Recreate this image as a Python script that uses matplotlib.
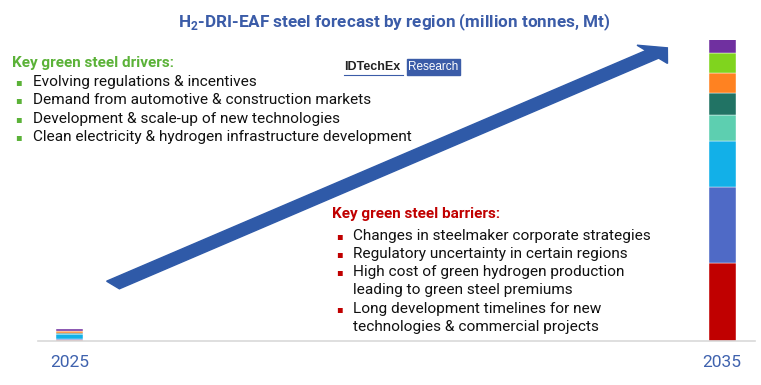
import matplotlib.pyplot as plt
from matplotlib.patches import Rectangle, FancyArrow

plt.rcParams['font.family'] = ['Roboto', 'DejaVu Sans']

# data (million tonnes)
years = ['2025', '2035']
regions = ['R1', 'R2', 'R3', 'R4', 'R5', 'R6', 'R7', 'R8']
colors = ['#C00000', '#4F6AC6', '#12B0E8', '#5DCFB0', '#217364', '#FF8221', '#80D41E', '#7030A0']
v2025 = [0.4, 0.3, 1.5, 0.2, 0.2, 0.6, 0.25, 0.4]
v2035 = [26.0, 25.0, 15.3, 8.7, 7.3, 6.7, 6.7, 4.7]

drivers = ['Evolving regulations & incentives',
           'Demand from automotive & construction markets',
           'Development & scale-up of new technologies',
           'Clean electricity & hydrogen infrastructure development']
barriers = ['Changes in steelmaker corporate strategies',
            'Regulatory uncertainty in certain regions',
            'High cost of green hydrogen production\nleading to green steel premiums',
            'Long development timelines for new\ntechnologies & commercial projects']

W, H = 761, 385
fig = plt.figure(figsize=(W / 100, H / 100), dpi=100)


def fx(px):
    return px / W


def fy(py):
    return 1 - py / H


# axes: baseline at y=341px, x from 38 to 755px
ax = fig.add_axes([fx(38), fy(341), fx(755) - fx(38), 301 / H])
ax.set_xlim(-0.049, 1.0506)
ax.set_ylim(0, 100)
bottoms = [0.0, 0.0]
for i, r in enumerate(regions):
    vals = [v2025[i], v2035[i]]
    ax.bar([0, 1], vals, width=0.0414, bottom=bottoms, color=colors[i],
           edgecolor='white', linewidth=0.3, label=r)
    bottoms = [b + v for b, v in zip(bottoms, vals)]
for s in ['top', 'right', 'left']:
    ax.spines[s].set_visible(False)
ax.spines['bottom'].set_color('#D9D9D9')
ax.spines['bottom'].set_linewidth(1.2)
ax.set_yticks([])
ax.set_xticks([0, 1])
ax.set_xticklabels(years, fontsize=12.5, color='#3F62AE')
ax.tick_params(axis='x', length=0, pad=10)
ax.patch.set_alpha(0)

# big arrow
arr = FancyArrow(fx(113), fy(285), fx(669) - fx(113) - 0.022, fy(47) - fy(285) - 0.019,
                 width=0.026, head_width=0.062, head_length=0.026,
                 length_includes_head=False, transform=fig.transFigure,
                 color='#2F5AA8', zorder=1)
fig.patches.append(arr)

# title
fig.text(fx(394), fy(22), r'H$_\mathregular{2}$-DRI-EAF steel forecast by region (million tonnes, Mt)',
         ha='center', va='center', fontsize=12.3, fontweight='bold', color='#3B5CA8')

# drivers
green = '#5BB238'
fig.text(fx(12), fy(63), 'Key green steel drivers:', fontsize=11, fontweight='bold',
         color=green, va='center')
for k, t in enumerate(drivers):
    y = 82 + k * 18.3
    fig.text(fx(15), fy(y), '\u25aa', fontsize=7, color=green, va='center',
             family='DejaVu Sans')
    fig.text(fx(33), fy(y), t, fontsize=11.1, color='#111111', va='center')

# barriers
red = '#C00000'
fig.text(fx(332), fy(214), 'Key green steel barriers:', fontsize=11, fontweight='bold',
         color=red, va='center')
ys = [236, 254, 272, 309]
for t, y in zip(barriers, ys):
    fig.text(fx(336), fy(y), '\u25aa', fontsize=7, color=red, va='center',
             family='DejaVu Sans')
    for j, ln in enumerate(t.split('\n')):
        fig.text(fx(353), fy(y + j * 18.3), ln, fontsize=11.1, color='#111111', va='center')

# logo
fig.text(fx(344), fy(67), 'IDTechEx', fontsize=9, fontweight='bold', color='#222222',
         va='center', family=['Liberation Sans', 'DejaVu Sans'])
fig.lines.append(plt.Line2D([fx(344), fx(403)], [fy(75), fy(75)], transform=fig.transFigure,
                            color='#3B5CA8', linewidth=0.8))
fig.patches.append(Rectangle((fx(407), fy(75)), fx(460) - fx(407), fy(59) - fy(75),
                             transform=fig.transFigure, color='#3B5CA8'))
fig.text(fx(433.5), fy(67), 'Research', fontsize=8.5, color='white', ha='center', va='center',
         family=['Liberation Sans', 'DejaVu Sans'])

fig.savefig('out.png', dpi=100)
